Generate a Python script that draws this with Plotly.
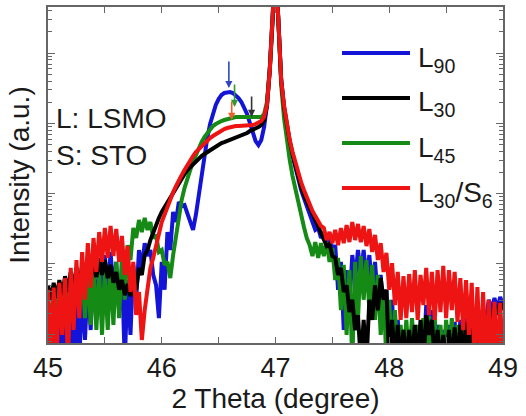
import numpy as np
import plotly.graph_objects as go

# 2-theta scan: 45.000 .. 49.000 deg, 0.025 deg step (161 points)
scan_start, scan_step, n_points = 45.0, 0.025, 161
two_theta = np.round(scan_start + scan_step * np.arange(n_points), 3)

# Intensity (a.u.) for each film, one row per 0.25 deg
L90 = [
    1.15, 0.4, 1.36, 0.4, 1.6, 0.4, 1.88, 0.4, 2.2, 0.4,            # 45.00
    3.3, 0.4, 4.3, 0.83, 5.9, 1.15, 8.8, 1.6, 11.4, 2.6,            # 45.25
    13.4, 3.1, 14.8, 4.3, 10.7, 2.2, 8.2, 0.4, 5.9, 0.98,           # 45.50
    9.7, 3.1, 15.8, 8.8, 19.8, 13.0, 15.8, 7.0, 5.0, 1.7,           # 45.75
    10.7, 4.3, 28.5, 15.8, 54.9, 39.6, 76.1, 66.8, 69.0, 51.5,      # 46.00
    37.1, 30.5, 49.8, 95.7, 184, 355, 619, 980, 1405, 1827,         # 46.25
    2223, 2535, 2707, 2797, 2797, 2707, 2535, 2297, 2016, 1711,     # 46.50
    1360, 1013, 730, 561, 493, 580, 888, 1827, 6140, 29560,         # 46.75
    200000, 29560, 4142, 1656, 860, 526, 344, 232, 157, 113,        # 47.00
    86.8, 66.8, 53.2, 39.6, 30.5, 32.5, 23.4, 28.5, 20.5, 23.4,     # 47.25
    14.8, 18.6, 4.3, 10.7, 1.15, 8.2, 2.6, 13.4, 5.9, 15.8,         # 47.50
    7.0, 15.8, 5.9, 13.4, 4.3, 10.7, 3.1, 7.0, 1.6, 4.3,            # 47.75
    0.4, 3.1, 0.4, 1.6, 0.4, 1.15, 0.4, 0.98, 0.4, 1.15,            # 48.00
    0.4, 1.36, 0.4, 2.6, 1.15, 2.2, 0.4, 1.36, 0.4, 1.15,           # 48.25
    0.4, 1.36, 0.4, 1.5, 0.4, 1.6, 0.4, 1.7, 0.4, 1.88,             # 48.50
    0.98, 2.07, 1.15, 2.2, 1.6, 3.1, 2.2, 3.3, 2.2, 3.4,            # 48.75
    2.6,                                                            # 49.00
]

L30 = [
    5.0, 3.1, 5.4, 3.3, 5.9, 3.6, 6.7, 4.0, 7.7, 4.6,
    8.8, 5.0, 9.4, 5.5, 10.3, 5.9, 11.4, 6.5, 12.2, 7.0,
    11.4, 6.3, 9.7, 5.4, 7.7, 4.3, 5.9, 3.6, 5.2, 3.5,
    5.5, 4.3, 8.8, 7.0, 13.4, 15.8, 21.9, 28.5, 35.9, 45.1,
    54.9, 64.6, 76.1, 89.7, 105, 124, 146, 167, 190, 217,
    240, 265, 292, 322, 344, 367, 392, 418, 446, 477,
    493, 526, 543, 561, 580, 599, 619, 640, 661, 706,
    730, 779, 805, 860, 888, 948, 1117, 1768, 5750, 29560,
    200000, 29560, 4142, 1711, 918, 561, 367, 248, 173, 124,
    95.7, 76.1, 62.6, 51.5, 42.3, 34.7, 28.5, 23.4, 18.0, 19.2,
    13.0, 12.2, 7.0, 8.8, 4.0, 5.0, 2.07, 3.1, 1.15, 1.88,
    0.4, 1.6, 0.4, 3.1, 1.6, 5.0, 2.2, 6.3, 3.1, 4.3,
    0.4, 1.6, 0.4, 1.36, 0.4, 1.15, 0.4, 1.15, 0.4, 1.36,
    0.4, 1.6, 0.4, 1.88, 0.98, 1.6, 0.4, 1.15, 0.4, 0.98,
    0.4, 1.15, 0.4, 1.25, 0.4, 1.36, 0.4, 1.5, 0.4, 1.6,
    0.4, 1.7, 0.98, 1.88, 1.15, 2.2, 1.6, 2.6, 1.88, 2.8,
    2.2,
]

L45 = [
    3.1, 1.36, 4.3, 1.88, 5.5, 2.07, 6.3, 2.35, 7.7, 2.6,
    8.8, 2.2, 10.7, 1.7, 9.7, 1.36, 8.8, 1.15, 7.7, 0.98,
    8.2, 1.15, 8.8, 1.36, 10.7, 1.7, 13.4, 3.1, 18.6, 11.4,
    32.5, 23.4, 42.3, 28.5, 45.1, 30.5, 39.6, 23.4, 25.9, 14.8,
    15.8, 9.7, 10.7, 6.3, 13.4, 25.9, 49.8, 81.3, 120, 167,
    217, 282, 355, 446, 543, 640, 730, 832, 918, 980,
    1046, 1081, 1117, 1155, 1193, 1193, 1233, 1233, 1233, 1233,
    1233, 1233, 1233, 1233, 1233, 1233, 1360, 2016, 6140, 29560,
    200000, 29560, 3517, 1193, 543, 301, 178, 113, 73.7, 49.8,
    33.6, 23.4, 18.6, 13.0, 20.5, 12.2, 19.8, 13.0, 20.5, 10.7,
    16.9, 5.9, 12.2, 2.2, 9.7, 0.98, 8.2, 0.4, 10.7, 1.6,
    13.0, 3.1, 11.4, 2.2, 9.7, 1.6, 7.0, 0.98, 4.3, 0.4,
    3.1, 0.4, 2.2, 0.4, 1.36, 0.4, 1.6, 0.4, 1.7, 0.4,
    1.36, 0.4, 1.7, 0.4, 1.82, 0.4, 1.7, 0.4, 1.36, 0.4,
    1.6, 0.4, 1.7, 0.4, 1.36, 0.4, 1.15, 0.4, 1.25, 0.4,
    1.15, 0.4, 0.98, 0.4, 1.15, 0.4, 0.98, 0.4, 0.98, 0.4,
    0.98,
]

L30_S6 = [
    4.3, 0.4, 4.6, 0.4, 5.4, 0.98, 6.3, 0.4, 8.8, 1.15,
    11.4, 1.7, 14.8, 3.1, 19.8, 4.6, 23.4, 7.7, 28.5, 10.7,
    32.5, 12.2, 34.7, 13.0, 31.5, 10.7, 25.0, 7.0, 18.0, 4.0,
    10.7, 1.88, 4.0, 0.83, 2.2, 4.3, 8.8, 12.2, 19.2, 26.7,
    39.6, 51.5, 66.8, 84, 105, 128, 157, 184, 217, 256,
    301, 344, 392, 432, 477, 526, 580, 619, 661, 706,
    754, 805, 832, 860, 888, 918, 918, 918, 918, 918,
    948, 948, 948, 980, 1013, 1081, 1233, 1827, 5750, 29560,
    200000, 29560, 4142, 1827, 948, 580, 392, 273, 197, 146,
    113, 89.7, 69.0, 56.7, 48.2, 40.9, 34.7, 32.5, 21.9, 28.5,
    19.8, 30.5, 18.6, 32.5, 19.8, 35.9, 20.5, 39.6, 21.9, 37.1,
    20.5, 34.7, 18.0, 31.5, 14.8, 25.9, 11.4, 19.8, 7.7, 14.4,
    4.3, 10.3, 2.6, 7.7, 1.6, 6.7, 1.7, 7.2, 2.07, 8.2,
    1.6, 7.0, 2.6, 8.8, 1.88, 7.7, 1.6, 8.2, 2.07, 9.4,
    1.7, 8.2, 2.2, 7.7, 1.5, 6.3, 1.15, 5.9, 0.98, 5.4,
    0.4, 4.7, 0.4, 4.0, 0.4, 3.1, 0.4, 2.9, 0.4, 2.8,
    0.4,
]

# Film peak markers: position, arrow tip and arrow tail intensity
marker_theta = [46.59, 46.64, 46.615, 46.79]
marker_tip = [3180, 1710, 1117, 1233]
marker_tail = [7980, 3750, 2152, 2535]
marker_color = ["#2f45c0", "#2f9a2f", "#e8602a", "#333333"]

series_names = ["L<sub>90</sub>", "L<sub>30</sub>", "L<sub>45</sub>",
                "L<sub>30</sub>/S<sub>6</sub>"]
series_values = [L90, L30, L45, L30_S6]
series_colors = ["#1414d8", "#000000", "#158a15", "#ee1414"]

FONT = "Liberation Sans, Arial, sans-serif"
W, H = 526, 416
M_L, M_R, M_T, M_B = 48, 23, 7, 73
PW, PH = W - M_L - M_R, H - M_T - M_B


def px_to_paper(px, py):
    return (px - M_L) / PW, (H - M_B - py) / PH


fig = go.Figure()

# draw order: blue, green, black, red (red on top)
for idx in [0, 2, 1, 3]:
    fig.add_trace(go.Scatter(
        x=two_theta, y=series_values[idx], mode="lines",
        line=dict(color=series_colors[idx], width=4),
        name=series_names[idx], showlegend=False,
    ))

annotations = []
for xt, tip, tail, col in zip(marker_theta, marker_tip, marker_tail, marker_color):
    annotations.append(dict(
        x=xt, y=np.log10(tip), ax=xt, ay=np.log10(tail),
        xref="x", yref="y", axref="x", ayref="y",
        text="", showarrow=True, arrowhead=2, arrowsize=0.9,
        arrowwidth=1.6, arrowcolor=col,
    ))

# hand-placed key on the right
shapes = []
key_rows_py = [53, 98, 143, 188]
for name, col, py in zip(series_names, series_colors, key_rows_py):
    x0, y0 = px_to_paper(342, py)
    x1, _ = px_to_paper(410, py)
    shapes.append(dict(type="line", xref="paper", yref="paper",
                       x0=x0, x1=x1, y0=y0, y1=y0,
                       line=dict(color=col, width=4)))
    lx, ly = px_to_paper(416, py + 6)
    annotations.append(dict(
        x=lx, y=ly, xref="paper", yref="paper", xanchor="left",
        yanchor="middle", text=name, showarrow=False,
        font=dict(family=FONT, size=28, color="#1a1a1a"),
    ))

for txt, py in [("L: LSMO", 118), ("S: STO", 155)]:
    tx, ty = px_to_paper(54, py)
    annotations.append(dict(
        x=tx, y=ty, xref="paper", yref="paper", xanchor="left",
        yanchor="middle", text=txt, showarrow=False,
        font=dict(family=FONT, size=28, color="#1a1a1a"),
    ))

axis_color = "#666666"
fig.update_layout(
    width=W, height=H,
    margin=dict(l=M_L, r=M_R, t=M_T, b=M_B, autoexpand=False),
    paper_bgcolor="white", plot_bgcolor="white",
    font=dict(family=FONT, color="#1a1a1a"),
    shapes=shapes, annotations=annotations,
    xaxis=dict(
        range=[45, 49], tickvals=[45, 46, 47, 48, 49],
        ticks="inside", ticklen=6, tickwidth=1.2, tickcolor=axis_color,
        minor=dict(dtick=0.5, ticks="inside", ticklen=6, tickcolor=axis_color),
        showline=True, linecolor=axis_color, linewidth=1.5, mirror="ticks",
        showgrid=False, zeroline=False,
        tickfont=dict(family=FONT, size=27, color="#1a1a1a"),
        title=dict(text="2 Theta (degree)", standoff=4,
                   font=dict(family=FONT, size=28, color="#1a1a1a")),
    ),
    yaxis=dict(
        type="log", range=[-0.124, 4.656], dtick=1,
        showticklabels=False,
        ticks="inside", ticklen=7, tickwidth=1.2, tickcolor=axis_color,
        minor=dict(ticks="inside", ticklen=4, tickcolor=axis_color, dtick="D1"),
        showline=True, linecolor=axis_color, linewidth=1.5, mirror="ticks",
        showgrid=False, zeroline=False,
        title=dict(text="Intensity (a.u.)", standoff=8,
                   font=dict(family=FONT, size=28, color="#1a1a1a")),
    ),
)

fig.write_html("out.html")
